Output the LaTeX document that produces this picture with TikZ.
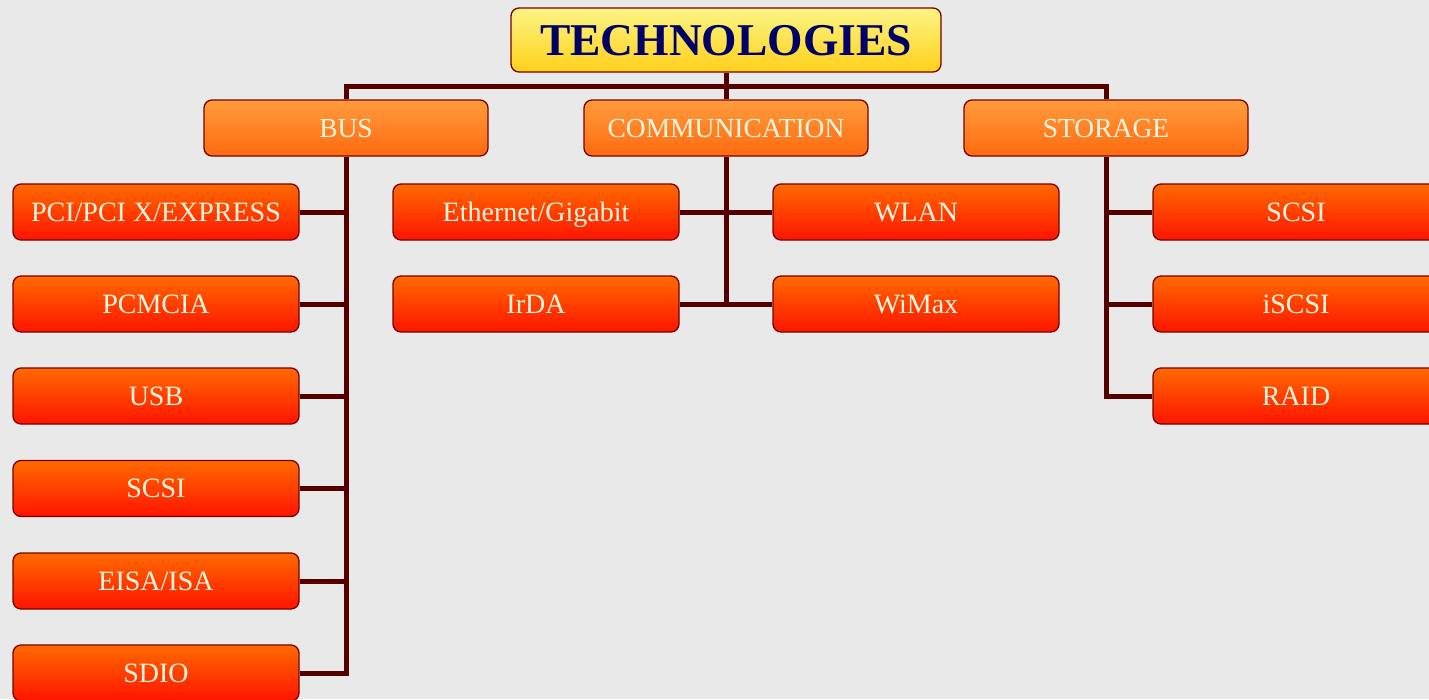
\documentclass[tikz,border=0pt]{standalone}
\usepackage{fontspec}
\setmainfont{Liberation Serif}
\definecolor{bgc}{HTML}{E9E9E9}
\definecolor{linec}{HTML}{550000}
\definecolor{edgec}{HTML}{7A0000}
\definecolor{titletop}{HTML}{FAF584}
\definecolor{titlebot}{HTML}{FFD01A}
\definecolor{titletext}{HTML}{000066}
\definecolor{midtop}{HTML}{FF9C3C}
\definecolor{midbot}{HTML}{FF6A10}
\definecolor{leaftop}{HTML}{FF6A00}
\definecolor{leafbot}{HTML}{FF1400}
\definecolor{cream}{HTML}{FFF6E0}
\pgfdeclarelayer{bglayer}
\pgfdeclarelayer{linelayer}
\pgfsetlayers{bglayer,linelayer,main}
\tikzset{
  boxbase/.style={draw=edgec, line width=1.3pt, rounded corners=8pt, inner sep=0pt, anchor=center,
    text depth=0pt},
  titlebox/.style={boxbase, top color=titletop, bottom color=titlebot, minimum width=430pt, minimum height=64pt,
    text=titletext, font=\fontsize{45.5}{50}\selectfont\bfseries, text height=30.8pt},
  midbox/.style={boxbase, top color=midtop, bottom color=midbot, minimum width=284pt, minimum height=56pt,
    text=cream, font=\fontsize{27.5}{30}\selectfont, text height=18.2pt},
  leafbox/.style={boxbase, top color=leaftop, bottom color=leafbot, minimum width=286pt, minimum height=56pt,
    text=cream, font=\fontsize{28}{30}\selectfont, text height=18.5pt},
  conn/.style={draw=linec, line width=5pt, line join=miter}
}
\begin{document}
\begin{tikzpicture}[x=1pt,y=-1pt]
\useasboundingbox (0,0) rectangle (1429,699);
\begin{pgfonlayer}{bglayer}
\fill[bgc] (0,0) rectangle (1429,699);
\end{pgfonlayer}
% nodes
\node[titlebox] (title) at (726,40) {TECHNOLOGIES};
\node[midbox] (bus) at (346,128) {BUS};
\node[midbox] (comm) at (726,128) {COMMUNICATION};
\node[midbox] (stor) at (1106,128) {STORAGE};
% bus leaves
\node[leafbox] (pci) at (156,212) {PCI/PCI X/EXPRESS};
\node[leafbox] (pcmcia) at (156,304) {PCMCIA};
\node[leafbox] (usb) at (156,396) {USB};
\node[leafbox] (bscsi) at (156,488.5) {SCSI};
\node[leafbox] (eisa) at (156,581) {EISA/ISA};
\node[leafbox] (sdio) at (156,673) {SDIO};
% communication leaves
\node[leafbox] (eth) at (536,212) {Ethernet/Gigabit};
\node[leafbox] (wlan) at (916,212) {WLAN};
\node[leafbox] (irda) at (536,304) {IrDA};
\node[leafbox] (wimax) at (916,304) {WiMax};
% storage leaves
\node[leafbox] (sscsi) at (1296,212) {SCSI};
\node[leafbox] (iscsi) at (1296,304) {iSCSI};
\node[leafbox] (raid) at (1296,396) {RAID};
\coordinate (bar) at (726,86);
% connectors
\begin{pgfonlayer}{linelayer}
\draw[conn] (title.south) -- (bar);
\draw[conn] (bus.north) -- (bus.north |- bar) -- (stor.north |- bar) -- (stor.north);
\draw[conn] (bar) -- (comm.north);
% bus
\draw[conn] (bus.south) -- (bus.south |- sdio) -- (sdio.east);
\foreach \n in {pci,pcmcia,usb,bscsi,eisa}
  \draw[conn] (\n.east) -- (\n.east -| bus.south);
% communication
\draw[conn] (comm.south) -- (comm.south |- irda);
\draw[conn] (eth.east) -- (wlan.west);
\draw[conn] (irda.east) -- (wimax.west);
% storage
\draw[conn] (stor.south) -- (stor.south |- raid) -- (raid.west);
\foreach \n in {sscsi,iscsi}
  \draw[conn] (\n.west) -- (\n.west -| stor.south);
\end{pgfonlayer}
\end{tikzpicture}
\end{document}
